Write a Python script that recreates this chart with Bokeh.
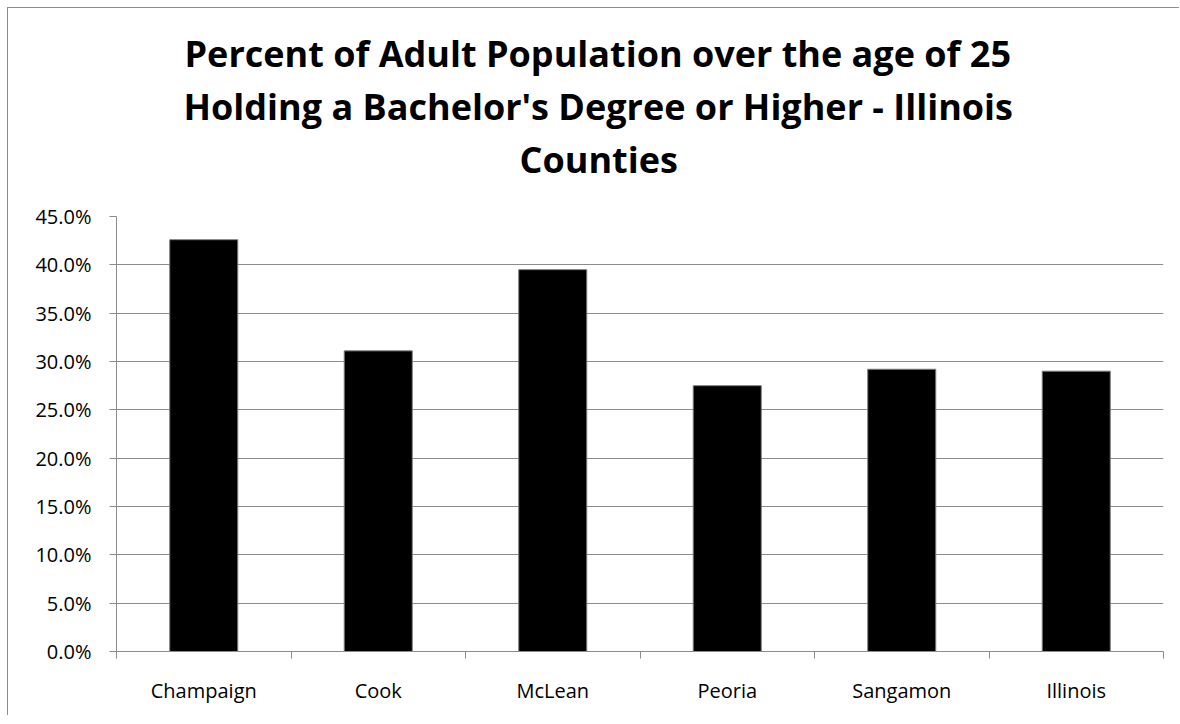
from bokeh.plotting import figure
from bokeh.models import (ColumnDataSource, Range1d, LinearAxis, FixedTicker,
                          NumeralTickFormatter, Title)
from bokeh.embed import file_html
from bokeh.resources import INLINE

counties = ["Champaign", "Cook", "McLean", "Peoria", "Sangamon", "Illinois"]
pct_bachelor = [0.426, 0.311, 0.395, 0.275, 0.292, 0.290]
y_ticks = [0.0, 0.05, 0.10, 0.15, 0.20, 0.25, 0.30, 0.35, 0.40, 0.45]
title_lines = ["Percent of Adult Population over the age of 25",
               "Holding a Bachelor's Degree or Higher - Illinois",
               "Counties"]
title_offsets = [68, 67, 403]

FONT = "Open Sans"
GRID = "#8c8c8c"

n = len(counties)
centers = [i + 0.5 for i in range(n)]
source = ColumnDataSource(data=dict(x=centers, county=counties, pct=pct_bachelor))

p = figure(width=1172, height=708, x_range=Range1d(0, n),
           y_range=Range1d(0, 0.45), output_backend="svg",
           toolbar_location=None, x_axis_location=None,
           min_border_left=108, min_border_right=17,
           min_border_top=208, min_border_bottom=65)
p.outline_line_color = None
p.background_fill_color = "white"
p.border_fill_color = "white"
p.styles = {"margin-left": "7px", "margin-top": "7px",
            "border-left": "1px solid #8c8c8c", "border-top": "1px solid #8c8c8c"}

p.vbar(x="x", top="pct", width=0.39, source=source,
       fill_color="black", line_color="#7f7f7f", line_width=1)

# y axis
yax = p.yaxis[0]
yax.ticker = FixedTicker(ticks=y_ticks)
yax.formatter = NumeralTickFormatter(format="0.0%")
yax.axis_line_color = GRID
yax.major_tick_line_color = GRID
yax.major_tick_in = 0
yax.major_tick_out = 7
yax.minor_tick_line_color = None
yax.major_label_text_font = FONT
yax.major_label_text_font_size = "20px"
yax.major_label_text_color = "black"
yax.major_label_standoff = 18

p.ygrid.ticker = FixedTicker(ticks=y_ticks)
p.ygrid.grid_line_color = GRID
p.ygrid.grid_line_width = 1
p.xgrid.grid_line_color = None

# x axis: boundary ticks
edge_ax = LinearAxis(ticker=FixedTicker(ticks=list(range(n + 1))),
                     major_label_overrides={i: "" for i in range(n + 1)})
edge_ax.axis_line_color = GRID
edge_ax.major_tick_line_color = GRID
edge_ax.major_tick_in = 0
edge_ax.major_tick_out = 7
edge_ax.minor_tick_line_color = None
edge_ax.major_label_standoff = 0
p.add_layout(edge_ax, "below")

# x axis: category labels
cat_ax = LinearAxis(ticker=FixedTicker(ticks=centers),
                    major_label_overrides={c: name for c, name in zip(centers, counties)})
cat_ax.axis_line_color = None
cat_ax.major_tick_line_color = None
cat_ax.minor_tick_line_color = None
cat_ax.major_tick_in = 0
cat_ax.major_tick_out = 0
cat_ax.major_label_text_font = FONT
cat_ax.major_label_text_font_size = "20px"
cat_ax.major_label_text_color = "black"
cat_ax.major_label_standoff = 18
p.add_layout(cat_ax, "below")

# spacer between frame and title: invisible axis (white tick, empty label)
spacer = LinearAxis(ticker=FixedTicker(ticks=[0]),
                    major_label_overrides={0: ""})
spacer.axis_line_color = None
spacer.major_tick_line_color = "white"
spacer.minor_tick_line_color = None
spacer.major_tick_in = 0
spacer.major_tick_out = 31
spacer.minor_tick_out = 0
spacer.major_label_standoff = 0
p.add_layout(spacer, "above")

# title lines (added bottom line first: closest to the frame)
for txt, off in reversed(list(zip(title_lines, title_offsets))):
    p.add_layout(Title(text=txt, align="left", offset=off, vertical_align="middle",
                       standoff=2, text_font=FONT, text_font_style="bold",
                       text_font_size="36px", text_color="black"), "above")

open("out.html", "w").write(file_html(p, INLINE))
